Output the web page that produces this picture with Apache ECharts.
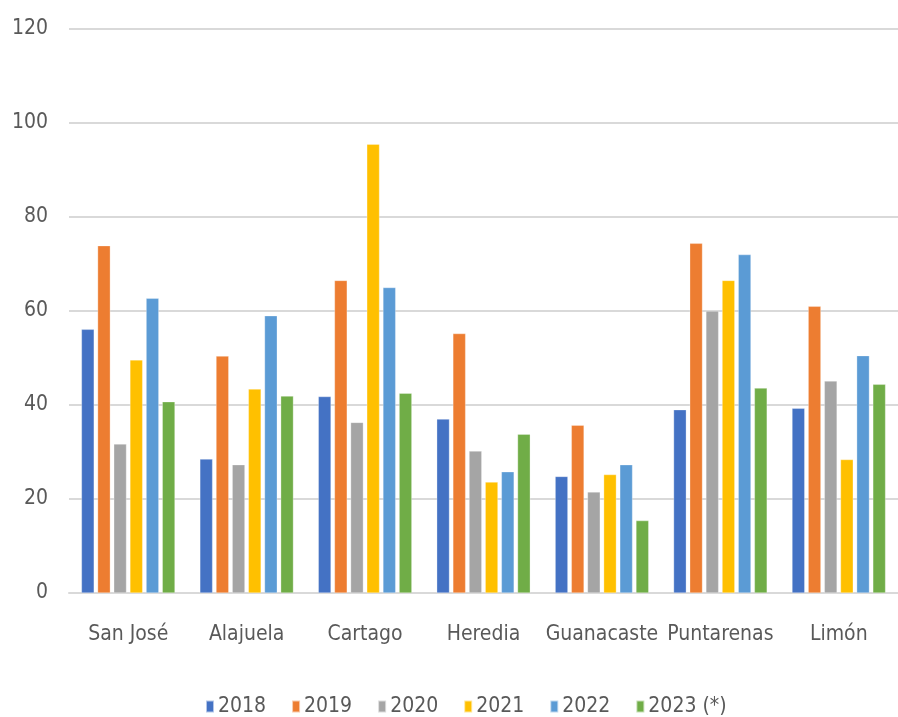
<!DOCTYPE html>
<html>
<head>
<meta charset="utf-8">
<script src="https://cdn.jsdelivr.net/npm/echarts@6/dist/echarts.min.js"></script>
<style>
  html, body { margin: 0; padding: 0; background: #ffffff; }
  #chart { width: 898px; height: 717px; }
</style>
</head>
<body>
<div id="chart"></div>
<script>
// Provinces on the category axis
const provinces = ['San José', 'Alajuela', 'Cartago', 'Heredia', 'Guanacaste', 'Puntarenas', 'Limón'];

// Yearly values per province
const years = ['2018', '2019', '2020', '2021', '2022', '2023 (*)'];
const v2018 = [56.1, 28.5, 41.8, 37.0, 24.8, 39.0, 39.3];
const v2019 = [73.9, 50.4, 66.5, 55.2, 35.7, 74.4, 61.0];
const v2020 = [31.7, 27.3, 36.3, 30.2, 21.5, 60.0, 45.1];
const v2021 = [49.6, 43.4, 95.5, 23.6, 25.2, 66.5, 28.4];
const v2022 = [62.7, 59.0, 65.0, 25.8, 27.3, 72.0, 50.5];
const v2023 = [40.7, 41.9, 42.5, 33.8, 15.4, 43.6, 44.4];

// Value axis ticks
const yTicks = [0, 20, 40, 60, 80, 100, 120];

const palette = ['#4472C4', '#ED7D31', '#A5A5A5', '#FFC000', '#5B9BD5', '#70AD47'];
const seriesValues = [v2018, v2019, v2020, v2021, v2022, v2023];

const font = '"DejaVu Sans Condensed", "Liberation Sans Narrow", sans-serif';
const textColor = '#595959';

const chart = echarts.init(document.getElementById('chart'), null, { renderer: 'canvas' });

chart.setOption({
  backgroundColor: '#ffffff',
  animation: false,
  color: palette,
  grid: { left: 69, top: 29, width: 838, bottom: 124 },
  legend: {
    top: 691,
    left: 200,
    icon: 'rect',
    itemWidth: 8,
    itemHeight: 12,
    itemGap: 25,
    textStyle: { fontFamily: font, fontSize: 21, color: textColor, padding: [0, 0, 0, -1] },
    data: years
  },
  xAxis: {
    type: 'category',
    data: provinces,
    axisTick: { show: false },
    axisLine: { lineStyle: { color: '#d9d9d9', width: 2 } },
    axisLabel: { fontFamily: font, fontSize: 21, color: textColor, margin: 31, interval: 0 }
  },
  yAxis: {
    type: 'value',
    min: yTicks[0],
    max: yTicks[yTicks.length - 1],
    interval: 20,
    axisLine: { show: false },
    axisTick: { show: false },
    splitLine: { lineStyle: { color: '#d9d9d9', width: 2 } },
    axisLabel: { fontFamily: font, fontSize: 21, color: textColor, margin: 21 }
  },
  series: years.map((name, i) => ({
    name: name,
    type: 'bar',
    data: seriesValues[i],
    barGap: '27%',
    barCategoryGap: '21%',
    itemStyle: { color: palette[i], borderColor: 'rgba(255,255,255,0.6)', borderWidth: 0.5 }
  }))
});
</script>
</body>
</html>
